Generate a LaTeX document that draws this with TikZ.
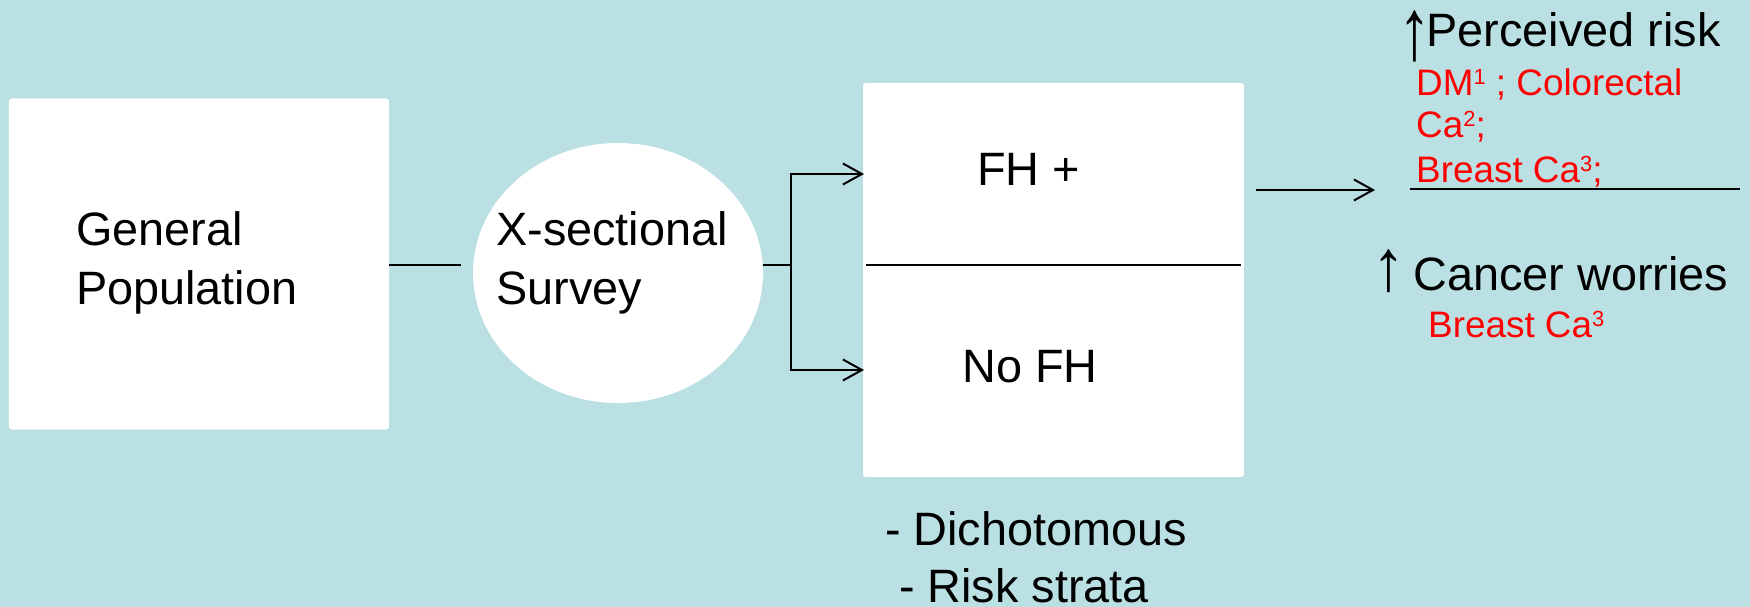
\documentclass[tikz,border=0pt]{standalone}
\usepackage{fontspec}
\setmainfont{Liberation Sans}
\usetikzlibrary{shapes.geometric,arrows.meta,calc}
\definecolor{bgc}{RGB}{186,224,227}
\definecolor{redtxt}{RGB}{255,0,0}
% small raised index after a study label
\newcommand\supr[1]{\raisebox{11bp}{\fontsize{22}{22}\selectfont #1}}
% tall thin "increase" arrow, keeping the glyph's own advance width
\newcommand\uparr[2]{\makebox[0.5em][c]{\raisebox{#2}{\scalebox{1.4}[#1]{↑}}}}
\tikzset{
  panel/.style={fill=white, rounded corners=3bp, inner sep=0pt},
  conn/.style={line width=2bp, draw=black},
  arr/.style={conn, -{Straight Barb[length=19bp,width=21bp]}},
  big/.style={font=\fontsize{47}{57}\selectfont, inner sep=0pt, anchor=base west},
  ref/.style={font=\fontsize{37}{44}\selectfont, text=redtxt, inner sep=0pt, anchor=base west},
}
\begin{document}
\begin{tikzpicture}[x=1bp, y=-1bp]
  \useasboundingbox (0,0) rectangle (1750,607);
  \fill[bgc] (0,0) rectangle (1750,607);

  % boxes
  \node[panel, minimum width=380bp, minimum height=331bp] (gp) at (199,264) {};
  \node[panel, ellipse, minimum width=290bp, minimum height=260bp] (sv) at (618,273) {};
  \node[panel, minimum width=381bp, minimum height=394bp] (fh) at (1053.5,280) {};
  \draw[conn] (866,265) -- (1241,265);

  % labels in boxes
  \node[big] (gp1) at (76,246) {General};
  \node[big] (gp2) at (76,304) {Population};
  \node[big] (sv1) at (496,246) {X-sectional};
  \node[big] (sv2) at (496,304) {Survey};
  \node[big] (pos) at (977,186) {FH +};
  \node[big] (neg) at (962,382) {No FH};

  % exposure measures
  \node[big] (m1) at (885,545) {- Dichotomous};
  \node[big] (m2) at (899,602) {- Risk strata};

  % connectors
  \coordinate (fork) at (791,265);
  \coordinate (fhin) at (864,174);
  \coordinate (noin) at (864,370);
  \coordinate (outtip) at (1375,190);
  \draw[conn] (gp.east |- fork) -- ($(sv.west |- fork)+(-12,0)$);
  \draw[conn] (sv.east |- fork) -- (fork);
  \draw[arr] (fork) |- (fhin);
  \draw[arr] (fork) |- (noin);
  \draw[arr] ($(fh.east |- outtip)+(12,0)$) -- (outtip);

  % outcomes
  \node[big] (risk) at (1403,47) {\uparr{1.85}{-13bp}Perceived risk};
  \node[ref] (r1) at (1416,96) {DM\supr{1} ; Colorectal};
  \node[ref] (r2) at (1416,138) {Ca\supr{2};};
  \node[ref] (r3) at (1416,183) {Breast Ca\supr{3};};
  \draw[conn] (1410,189) -- (1740,189);
  \node[big] (worry) at (1377,290) {\uparr{1.55}{0bp} Cancer worries};
  \node[ref] (w1) at (1428,337) {Breast Ca\supr{3}};
\end{tikzpicture}
\end{document}
